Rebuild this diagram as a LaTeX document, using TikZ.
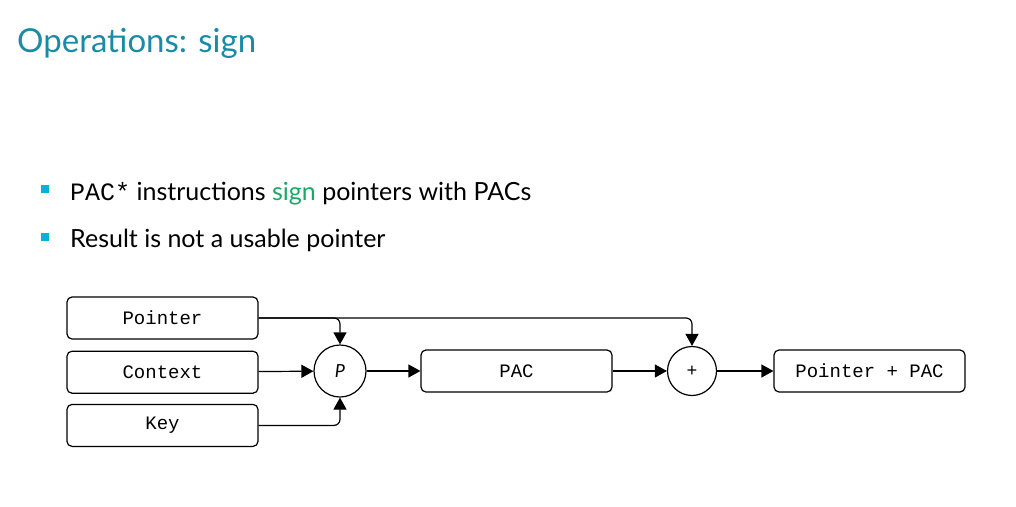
\documentclass[tikz,border=0pt]{standalone}
\usepackage{fontspec}
\setmainfont{Lato}
\setmonofont{Liberation Mono}
\usetikzlibrary{arrows.meta,positioning}
\definecolor{titleblue}{HTML}{1A8BA6}
\definecolor{bulletcyan}{HTML}{00B4D8}
\definecolor{signgreen}{HTML}{1AA867}

\begin{document}
\begin{tikzpicture}[
 x=1pt,y=-1pt,
 node distance=11pt and 55pt,
 box/.style={draw,rounded corners=5pt,line width=1.2pt,minimum width=191pt,minimum height=42pt,font=\ttfamily\fontsize{19}{22}\selectfont},
 op/.style={draw,circle,line width=1.2pt,inner sep=0pt},
 bullet/.style={fill=bulletcyan,minimum size=8pt,inner sep=0pt},
 item/.style={anchor=base west,font=\fontsize{25}{30}\selectfont},
 arrow/.style={-{Triangle[length=12pt,width=13pt]},line width=1.2pt,rounded corners=6pt}
]
\useasboundingbox (0,0) rectangle (1016,506);
\node[anchor=base west,text=titleblue,font=\fontsize{33}{40}\selectfont,inner sep=0pt] (title) at (17,52) {Operations: sign};
\node[bullet] (b1) at (45,189) {};
\node[item,inner sep=0pt] (t1) at (70,200) {\texttt{PAC*} instructions \textcolor{signgreen}{sign} pointers with PACs};
\node[bullet] (b2) at (45,237) {};
\node[item,inner sep=0pt] (t2) at (70,247) {Result is not a usable pointer};
% inputs
\node[box] (ptr) at (162.5,318) {Pointer};
\node[box,below=11pt of ptr] (ctx) {Context};
\node[box,below=10pt of ctx] (key) {Key};
% signing
\node[op,minimum size=52pt,font=\itshape\fontsize{18}{20}\selectfont] (sign) at (340,371) {P};
\node[box] (pac) at (516.5,371) {PAC};
\node[op,minimum size=49pt,font=\ttfamily\fontsize{18}{20}\selectfont] (plus) at (692,371) {+};
\node[box] (res) at (869.5,371) {Pointer + PAC};
\draw[arrow] (ptr.east) -| (sign.north);
\draw[arrow] (ptr.east) -| (plus.north);
\draw[arrow] (ctx) -- (sign);
\draw[arrow] (key.east) -| (sign.south);
\draw[arrow] (sign) -- (pac);
\draw[arrow] (pac) -- (plus);
\draw[arrow] (plus) -- (res);
\end{tikzpicture}
\end{document}
